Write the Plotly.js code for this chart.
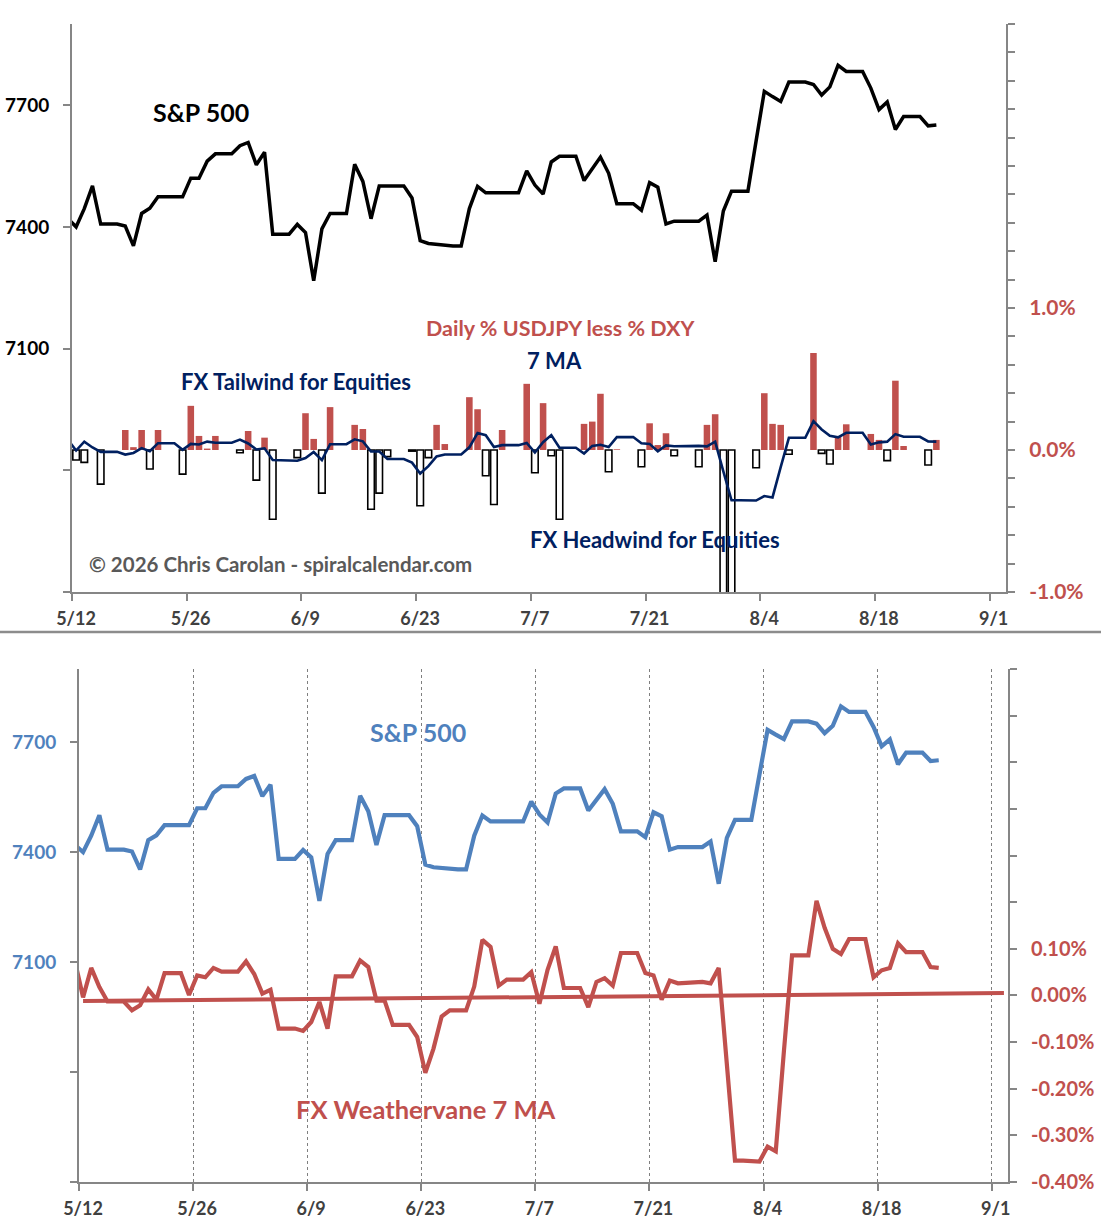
<!DOCTYPE html>
<html>
<head>
<meta charset="utf-8">
<script src="https://cdn.plot.ly/plotly-3.0.1.min.js"></script>
<style>
  body { margin: 0; background: #fff; }
  #chart { width: 1101px; height: 1231px; }
</style>
</head>
<body>
<div id="chart"></div>
<script>
// Daily calendar dates (weekends included, the sheet repeats the close on them)
var dates = [
  "2026-05-11", "2026-05-12", "2026-05-13", "2026-05-14", "2026-05-15", "2026-05-16", "2026-05-17",
  "2026-05-18", "2026-05-19", "2026-05-20", "2026-05-21", "2026-05-22", "2026-05-23", "2026-05-24",
  "2026-05-25", "2026-05-26", "2026-05-27", "2026-05-28", "2026-05-29", "2026-05-30", "2026-05-31",
  "2026-06-01", "2026-06-02", "2026-06-03", "2026-06-04", "2026-06-05", "2026-06-06", "2026-06-07",
  "2026-06-08", "2026-06-09", "2026-06-10", "2026-06-11", "2026-06-12", "2026-06-13", "2026-06-14",
  "2026-06-15", "2026-06-16", "2026-06-17", "2026-06-18", "2026-06-19", "2026-06-20", "2026-06-21",
  "2026-06-22", "2026-06-23", "2026-06-24", "2026-06-25", "2026-06-26", "2026-06-27", "2026-06-28",
  "2026-06-29", "2026-06-30", "2026-07-01", "2026-07-02", "2026-07-03", "2026-07-04", "2026-07-05",
  "2026-07-06", "2026-07-07", "2026-07-08", "2026-07-09", "2026-07-10", "2026-07-11", "2026-07-12",
  "2026-07-13", "2026-07-14", "2026-07-15", "2026-07-16", "2026-07-17", "2026-07-18", "2026-07-19",
  "2026-07-20", "2026-07-21", "2026-07-22", "2026-07-23", "2026-07-24", "2026-07-25", "2026-07-26",
  "2026-07-27", "2026-07-28", "2026-07-29", "2026-07-30", "2026-07-31", "2026-08-01", "2026-08-02",
  "2026-08-03", "2026-08-04", "2026-08-05", "2026-08-06", "2026-08-07", "2026-08-08", "2026-08-09",
  "2026-08-10", "2026-08-11", "2026-08-12", "2026-08-13", "2026-08-14", "2026-08-15", "2026-08-16",
  "2026-08-17", "2026-08-18", "2026-08-19", "2026-08-20", "2026-08-21", "2026-08-22", "2026-08-23",
  "2026-08-24", "2026-08-25"
];

// S&P 500 close
var spx = [
  7420, 7400, 7445, 7501, 7407, 7407, 7407, 7402, 7353, 7433, 7446, 7474, 7474, 7474, 7474, 7520, 7520, 7562, 7580, 7580, 7580,
  7600, 7608, 7553, 7584, 7382, 7382, 7382, 7406, 7386, 7267, 7395, 7433, 7433, 7433, 7554, 7512, 7420, 7501, 7501, 7501,
  7501, 7471, 7366, 7359, 7357, 7353, 7353, 7353, 7445, 7500,
  7484, 7484, 7484, 7484, 7484, 7538, 7503, 7481, 7560, 7574, 7574, 7574, 7514, 7543, 7572, 7532, 7457, 7457, 7457, 7441,
  7509, 7498, 7407, 7414, 7414, 7414, 7414, 7429, 7314, 7439, 7488,
  7488, 7488, 7612, 7734, 7721, 7709, 7757, 7757, 7757, 7751, 7725, 7745, 7798, 7783, 7783, 7783, 7742, 7689, 7708, 7640,
  7672, 7672, 7672, 7649, 7651
];

// Daily % USDJPY less % DXY (in %)
var fxDaily = [
  0, -0.07, -0.087, 0, -0.24, 0, 0, 0.141, 0.02, 0.141, -0.134, 0.141, 0, 0, -0.17, 0.311, 0.099, 0.01, 0.099, 0, 0,
  -0.019, 0.134, -0.212, 0.087, -0.488, 0, 0, -0.054, 0.259, 0.078, -0.304, 0.302, 0, 0, 0.177, 0.148, -0.417, -0.304, -0.047, 0,
  0, -0.008, -0.393, -0.054, 0.177, 0.042, 0, 0, 0.372, 0.287,
  -0.181, -0.384, 0.141, 0, 0, 0.466, -0.16, 0.33, -0.04, -0.488, 0, 0, 0.184, 0.2, 0.396, -0.153, 0.005, 0, 0, -0.118,
  0.188, 0.035, 0.118, -0.04, 0, 0, -0.118, 0.177, 0.252, -1.35, -1.45,
  0, 0, -0.125, 0.4, 0.184, 0.177, -0.03, 0, 0, 0.683, -0.024, -0.099, 0.094, 0.181, 0, 0, 0.113, 0.071, -0.075, 0.488,
  0.028, 0, 0, -0.106, 0.071
];

// FX Weathervane 7 MA (in %)
var fxMA = [
  0.073, -0.004, 0.059, 0.018, -0.013, -0.013, -0.013, -0.032, -0.021, 0.013, -0.009, 0.048, 0.048, 0.048, 0.001, 0.043, 0.039, 0.059, 0.051, 0.051, 0.051,
  0.073, 0.046, 0.004, 0.012, -0.071, -0.071, -0.071, -0.076, -0.057, -0.014, -0.071, 0.041, 0.041, 0.041, 0.075, 0.061, -0.011, -0.011, -0.063, -0.063,
  -0.063, -0.089, -0.166, -0.114, -0.045, -0.032, -0.032, -0.032, 0.019, 0.119,
  0.104, 0.021, 0.034, 0.034, 0.034, 0.05, -0.018, 0.055, 0.105, 0.016, 0.016, 0.016, -0.025, 0.029, 0.037, 0.021, 0.091, 0.091, 0.091, 0.048,
  0.043, -0.009, 0.032, 0.026, 0.028, 0.028, 0.029, 0.026, 0.059, -0.15, -0.354,
  -0.354, -0.354, -0.356, -0.324, -0.334, -0.12, 0.086, 0.086, 0.086, 0.203, 0.145, 0.1, 0.089, 0.121, 0.121, 0.121, 0.039, 0.054, 0.059, 0.112,
  0.093, 0.093, 0.093, 0.061, 0.059
];

// Linear trend of the 7 MA (start / end)
var trendDates = ["2026-05-12", "2026-09-02"];
var trendVals = [-0.012, 0.005];

// Axis ticks and labels
var xRange = ["2026-05-12", "2026-09-03"];
var spxTicks = [6500, 6800, 7100, 7400, 7700];
var spxLabels = ["", "", "7100", "7400", "7700"];
var topPctTicks = [-1, -0.8, -0.6, -0.4, -0.2, 0, 0.2, 0.4, 0.6, 0.8, 1, 1.2, 1.4, 1.6, 1.8, 2, 2.2, 2.4, 2.6, 2.8, 3];
var topPctLabels = ["-1.0%", "", "", "", "", "0.0%", "", "", "", "", "1.0%", "", "", "", "", "", "", "", "", "", ""];
var botPctTicks = [-0.4, -0.3, -0.2, -0.1, 0, 0.1, 0.2, 0.3, 0.4, 0.5, 0.6, 0.7];
var botPctLabels = ["-0.40%", "-0.30%", "-0.20%", "-0.10%", "0.00%", "0.10%", "", "", "", "", "", ""];

var DAY = 86400000;
var axisGray = "#868686";
var red = "#c0504d";
var navy = "#002060";
var blue = "#4f81bd";
var fam = "Lato, Calibri, sans-serif";

// Bar styles: red fill up, white box with black outline down
var barFill = fxDaily.map((v) => (v < 0 ? "#ffffff" : red));
var barEdge = fxDaily.map((v) => (v < 0 ? "#000000" : "rgba(0,0,0,0)"));
var barEdgeW = fxDaily.map((v) => (v < 0 ? 1.6 : 0));

var bars = {
  type: "bar",
  x: dates,
  y: fxDaily,
  xaxis: "x",
  yaxis: "y2",
  xperiod: DAY,
  xperiodalignment: "middle",
  width: 0.8 * DAY,
  marker: { color: barFill, line: { color: barEdge, width: barEdgeW } },
  hoverinfo: "none",
};

var spxTop = {
  type: "scatter",
  mode: "lines",
  x: dates,
  y: spx,
  xaxis: "x",
  yaxis: "y",
  xperiod: DAY,
  xperiodalignment: "middle",
  line: { color: "#000000", width: 3.5 },
  hoverinfo: "none",
};

var maTop = {
  type: "scatter",
  mode: "lines",
  x: dates,
  y: fxMA,
  xaxis: "x",
  yaxis: "y2",
  xperiod: DAY,
  xperiodalignment: "middle",
  line: { color: navy, width: 2.6 },
  hoverinfo: "none",
};

var spxBot = {
  type: "scatter",
  mode: "lines",
  x: dates,
  y: spx,
  xaxis: "x2",
  yaxis: "y3",
  xperiod: DAY,
  xperiodalignment: "middle",
  line: { color: blue, width: 4.2 },
  hoverinfo: "none",
};

var trendBot = {
  type: "scatter",
  mode: "lines",
  x: trendDates,
  y: trendVals,
  xaxis: "x2",
  yaxis: "y4",
  xperiod: DAY,
  xperiodalignment: "middle",
  line: { color: red, width: 4 },
  hoverinfo: "none",
};

var maBot = {
  type: "scatter",
  mode: "lines",
  x: dates,
  y: fxMA,
  xaxis: "x2",
  yaxis: "y4",
  xperiod: DAY,
  xperiodalignment: "middle",
  line: { color: red, width: 4.2 },
  hoverinfo: "none",
};

var data = [spxTop, bars, maTop, spxBot, trendBot, maBot];

// Common x axis settings (dates every 14 days)
function dateAxis(domain, anchor, grid) {
  return {
    domain: domain,
    anchor: anchor,
    type: "date",
    range: xRange,
    tickmode: "linear",
    tick0: xRange[0],
    dtick: 14 * DAY,
    tickformat: "%-m/%-d",
    ticks: "outside",
    ticklen: 7,
    tickwidth: 2,
    tickcolor: axisGray,
    showline: true,
    linecolor: axisGray,
    linewidth: 2,
    showgrid: grid,
    gridcolor: "#7f7f7f",
    gridwidth: 1,
    griddash: "3px,3px",
    zeroline: false,
    ticklabelshift: 4,
    ticklabelstandoff: 2,
    tickfont: { family: fam, size: 18, color: "#404040", weight: 700 },
    fixedrange: true,
  };
}

function valueAxis(domain, anchor, side, range, vals, text, color, size, over) {
  var ax = {
    anchor: anchor,
    side: side,
    range: range,
    tickmode: "array",
    tickvals: vals,
    ticktext: text,
    ticks: "outside",
    ticklen: 7,
    tickwidth: 2,
    tickcolor: axisGray,
    showline: true,
    linecolor: axisGray,
    linewidth: 2,
    showgrid: false,
    zeroline: false,
    ticklabelstandoff: 10,
    tickfont: { family: fam, size: size, color: color, weight: 700 },
    fixedrange: true,
  };
  if (over) ax.overlaying = over;
  else ax.domain = domain;
  return ax;
}

function label(text, x, y, color, size) {
  return {
    text: text,
    xref: "paper",
    yref: "paper",
    x: x / 1101,
    y: 1 - y / 1231,
    xanchor: "center",
    yanchor: "middle",
    showarrow: false,
    font: { family: fam, size: size, color: color, weight: 700 },
  };
}

var layout = {
  width: 1101,
  height: 1231,
  margin: { l: 0, r: 0, t: 0, b: 0 },
  showlegend: false,
  hovermode: false,
  paper_bgcolor: "#ffffff",
  plot_bgcolor: "#ffffff",
  bargap: 0,
  xaxis: dateAxis([72 / 1101, 1006 / 1101], "y", false),
  yaxis: valueAxis([1 - 592 / 1231, 1 - 24 / 1231], "x", "left", [6500, 7900], spxTicks, spxLabels, "#000000", 19),
  yaxis2: valueAxis(null, "x", "right", [-1, 3], topPctTicks, topPctLabels, red, 21, "y"),
  xaxis2: dateAxis([79 / 1101, 1008 / 1101], "y3", true),
  yaxis3: valueAxis([1 - 1182 / 1231, 1 - 669 / 1231], "x2", "left", [6500, 7900], spxTicks, spxLabels, blue, 19),
  yaxis4: valueAxis(null, "x2", "right", [-0.4, 0.7], botPctTicks, botPctLabels, red, 20, "y3"),
  // separator between both charts
  shapes: [
    {
      type: "line",
      xref: "paper",
      yref: "paper",
      x0: 0,
      x1: 1,
      y0: 1 - 632 / 1231,
      y1: 1 - 632 / 1231,
      line: { color: "#8c8c8c", width: 2.5 },
    },
  ],
  annotations: [
    label("S&P 500", 201, 112, "#000000", 25),
    label("Daily % USDJPY less % DXY", 560, 328, red, 21.5),
    label("7 MA", 554, 360, navy, 22),
    label("FX Tailwind for Equities", 296, 381, navy, 22),
    label("FX Headwind for Equities", 655, 539, navy, 22),
    label("© 2026 Chris Carolan - spiralcalendar.com", 280, 564, "#595959", 20.5),
    label("S&P 500", 418, 732, blue, 25),
    label("FX Weathervane 7 MA", 426, 1109, red, 25.5),
  ],
};

Plotly.newPlot("chart", data, layout, { displayModeBar: false, staticPlot: true });
</script>
</body>
</html>
